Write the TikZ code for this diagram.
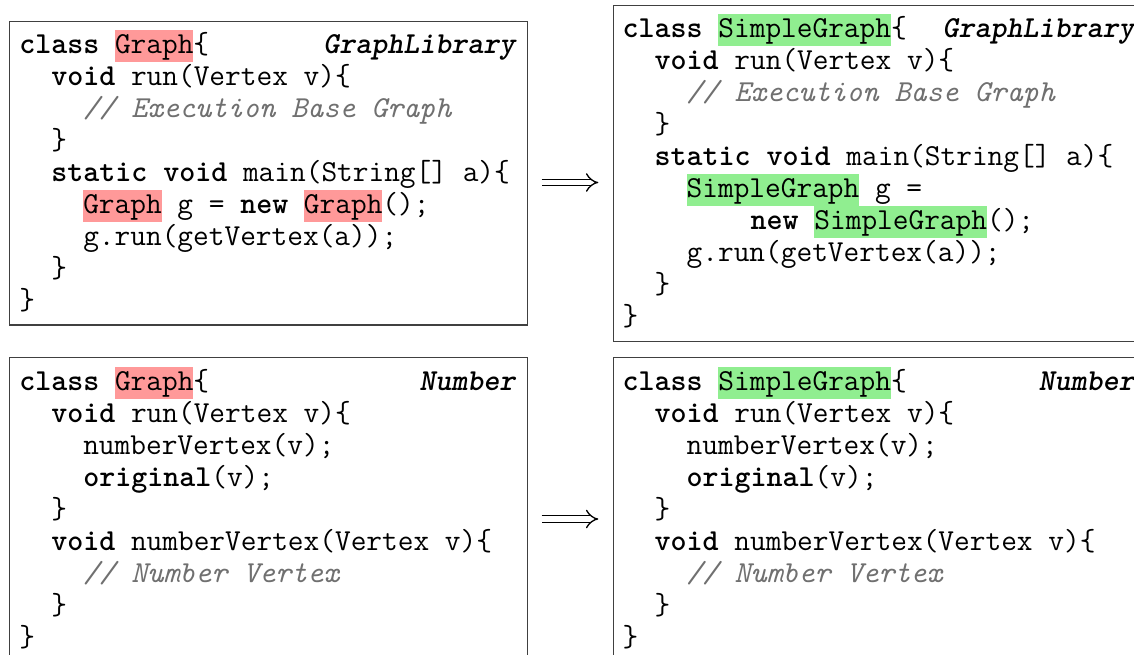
\documentclass[tikz,border=0pt]{standalone}
\usepackage{xcolor}
\usetikzlibrary{arrows.meta}
\definecolor{hlred}{HTML}{FF9999}
\definecolor{hlgreen}{HTML}{90EE90}
\definecolor{cmtgray}{HTML}{707070}
\definecolor{boxgray}{HTML}{404040}
\newcommand\hlw[2]{{\setlength{\fboxsep}{0pt}\colorbox{#1}{\rule[-8.7pt]{0pt}{32pt}#2}}}
\newcommand\kw[1]{{\bfseries #1}}
\newcommand\cmt[1]{{\color{cmtgray}\itshape #1}}
\newcommand\libtag[1]{{\bfseries\slshape #1}}
\tikzset{
  codebox/.style={draw=boxgray, line width=1.2pt, inner sep=0pt, outer sep=0pt, anchor=north west},
  code/.style={inner sep=0pt, outer sep=0pt, anchor=base west, font=\ttfamily\fontsize{30.48pt}{32pt}\selectfont},
  implarrow/.style={double, double distance=5.2pt, line width=1.3pt, -{Implies[scale=1.3]}}
}
\begin{document}
\begin{tikzpicture}[x=1pt,y=-1pt]
\useasboundingbox (0,0) rectangle (1134,655);
\clip (0,0) rectangle (1134,655);
% boxes
\node[codebox, minimum width=518pt, minimum height=303.3pt] (box1) at (9.3,21.7) {};
\node[codebox, minimum width=534pt, minimum height=336pt] (box2) at (613.3,5.7) {};
\node[codebox, minimum width=518pt, minimum height=310pt] (box3) at (9.3,357.3) {};
\node[codebox, minimum width=534pt, minimum height=310pt] (box4) at (613.3,357.3) {};
% arrows
\coordinate (arr1s) at (541.7,182.5);
\coordinate (arr1e) at (598.3,182.5);
\coordinate (arr2s) at (541.7,519);
\coordinate (arr2e) at (598.3,519);
\draw[implarrow] (arr1s) -- (arr1e);
\draw[implarrow] (arr2s) -- (arr2e);
% box 1
\node[code] (a0) at (19.3,53.5) {\kw{class} \hlw{hlred}{Graph}\{};
\node[code] (a0t) at (19.3+16*19,53.5) {\libtag{GraphLibrary}};
\node[code] (a1) at (19.3+16*2,53.5+32*1) {\kw{void} run(Vertex v)\{};
\node[code] (a2) at (19.3+16*4,53.5+32*2) {\cmt{// Execution Base Graph}};
\node[code] (a3) at (19.3+16*2,53.5+32*3) {\}};
\node[code] (a4) at (19.3+16*2,53.5+32*4) {\kw{static void} main(String[] a)\{};
\node[code] (a5) at (19.3+16*4,53.5+32*5) {\hlw{hlred}{Graph} g = \kw{new} \hlw{hlred}{Graph}();};
\node[code] (a6) at (19.3+16*4,53.5+32*6) {g.run(getVertex(a));};
\node[code] (a7) at (19.3+16*2,53.5+32*7) {\}};
\node[code] (a8) at (19.3,53.5+32*8) {\}};
% box 2
\node[code] (b0) at (622.7,37.5) {\kw{class} \hlw{hlgreen}{SimpleGraph}\{};
\node[code] (b0t) at (622.7+16*20,37.5) {\libtag{GraphLibrary}};
\node[code] (b1) at (622.7+16*2,37.5+32*1) {\kw{void} run(Vertex v)\{};
\node[code] (b2) at (622.7+16*4,37.5+32*2) {\cmt{// Execution Base Graph}};
\node[code] (b3) at (622.7+16*2,37.5+32*3) {\}};
\node[code] (b4) at (622.7+16*2,37.5+32*4) {\kw{static void} main(String[] a)\{};
\node[code] (b5) at (622.7+16*4,37.5+32*5) {\hlw{hlgreen}{SimpleGraph} g =};
\node[code] (b6) at (622.7+16*8,37.5+32*6) {\kw{new} \hlw{hlgreen}{SimpleGraph}();};
\node[code] (b7) at (622.7+16*4,37.5+32*7) {g.run(getVertex(a));};
\node[code] (b8) at (622.7+16*2,37.5+32*8) {\}};
\node[code] (b9) at (622.7,37.5+32*9) {\}};
% box 3
\node[code] (c0) at (19.3,390) {\kw{class} \hlw{hlred}{Graph}\{};
\node[code] (c0t) at (19.3+16*25,390) {\libtag{Number}};
\node[code] (c1) at (19.3+16*2,390+32*1) {\kw{void} run(Vertex v)\{};
\node[code] (c2) at (19.3+16*4,390+32*2) {numberVertex(v);};
\node[code] (c3) at (19.3+16*4,390+32*3) {\kw{original}(v);};
\node[code] (c4) at (19.3+16*2,390+32*4) {\}};
\node[code] (c5) at (19.3+16*2,390+32*5) {\kw{void} numberVertex(Vertex v)\{};
\node[code] (c6) at (19.3+16*4,390+32*6) {\cmt{// Number Vertex}};
\node[code] (c7) at (19.3+16*2,390+32*7) {\}};
\node[code] (c8) at (19.3,390+32*8) {\}};
% box 4
\node[code] (d0) at (622.7,390) {\kw{class} \hlw{hlgreen}{SimpleGraph}\{};
\node[code] (d0t) at (622.7+16*26,390) {\libtag{Number}};
\node[code] (d1) at (622.7+16*2,390+32*1) {\kw{void} run(Vertex v)\{};
\node[code] (d2) at (622.7+16*4,390+32*2) {numberVertex(v);};
\node[code] (d3) at (622.7+16*4,390+32*3) {\kw{original}(v);};
\node[code] (d4) at (622.7+16*2,390+32*4) {\}};
\node[code] (d5) at (622.7+16*2,390+32*5) {\kw{void} numberVertex(Vertex v)\{};
\node[code] (d6) at (622.7+16*4,390+32*6) {\cmt{// Number Vertex}};
\node[code] (d7) at (622.7+16*2,390+32*7) {\}};
\node[code] (d8) at (622.7,390+32*8) {\}};
\end{tikzpicture}
\end{document}
